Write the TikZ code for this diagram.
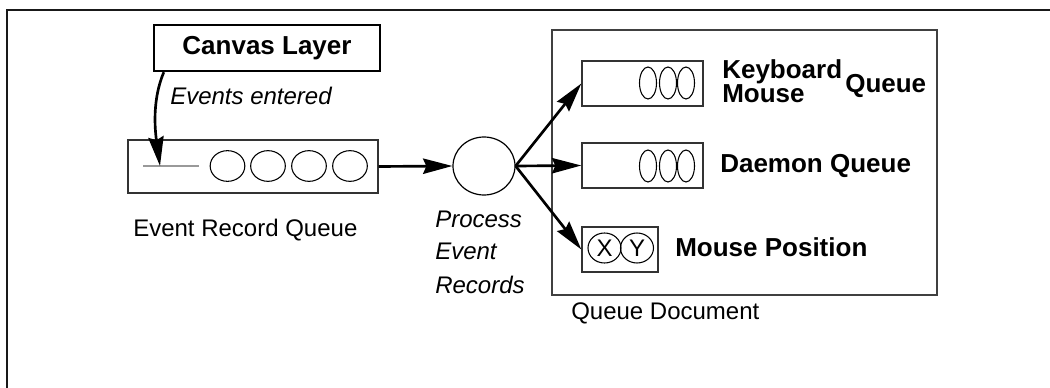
\documentclass[tikz,border=0pt]{standalone}
\usepackage{fontspec}
\setmainfont{Liberation Sans}
\usetikzlibrary{arrows.meta,shapes.geometric,calc}
\begin{document}
\begin{tikzpicture}[x=0.75pt,y=-0.75pt,
  frame/.style={line width=1.5pt, draw=black!90},
  qbox/.style={draw=black!80, line width=1pt, inner sep=0pt, rectangle},
  slot/.style={draw=black, line width=0.8pt, ellipse, inner sep=0pt},
  flow/.style={line width=2pt, -{Stealth[length=22pt,width=11.5pt,inset=2.5pt]}},
  reg/.style={font=\fontsize{18}{20}\selectfont, inner sep=0pt, anchor=base west},
  ital/.style={font=\fontsize{18}{20}\selectfont\itshape, inner sep=0pt, anchor=base west},
  bold/.style={font=\fontsize{19.5}{22}\selectfont\bfseries, inner sep=0pt, anchor=base west}]

\useasboundingbox (0,0) rectangle (1050,388);

% outer frame: top and left edges only
\coordinate (fcorner) at (7,10);
\coordinate (fright) at (1050,10);
\coordinate (fbottom) at (7,388);
\draw[frame] (fright) -- (fcorner) -- (fbottom);

% canvas layer
\node[draw=black, line width=1.8pt, minimum width=169.5pt, minimum height=34.5pt, inner sep=0pt,
      font=\fontsize{19.5}{22}\selectfont\bfseries] (canvas) at (267,48) {Canvas Layer};
\node[ital] (entered) at (170,105) {Events entered};

% event record queue
\node[qbox, minimum width=187.5pt, minimum height=39.75pt] (erq) at (253,166.5) {};
\coordinate (gl) at (143,166);
\coordinate (gr) at (199,166);
\draw[black!40, line width=1pt] (gl) -- (gr);
\node[slot, minimum width=26pt, minimum height=23pt] (e1) at (227.5,166) {};
\node[slot, minimum width=26pt, minimum height=23pt] (e2) at (268,166) {};
\node[slot, minimum width=26pt, minimum height=23pt] (e3) at (309,166) {};
\node[slot, minimum width=26pt, minimum height=23pt] (e4) at (350,166) {};
\node[reg] (erqlabel) at (133,237) {Event Record Queue};

% entry arrow from the canvas layer
\coordinate (cstart) at ($(canvas.south west)+(11,0)$);
\coordinate (entry) at (160,166);
\draw[flow] (cstart) .. controls (152,100) and (155,130) .. (entry);

% processing step
\node[draw=black, line width=0.9pt, ellipse, minimum width=46.5pt, minimum height=43.5pt, inner sep=0pt] (proc) at (484,166) {};
\node[ital] (p1) at (435,228) {Process};
\node[ital] (p2) at (435,260) {Event};
\node[ital] (p3) at (435,294) {Records};

% queue document
\node[draw=black!75, line width=1.2pt, minimum width=288.75pt, minimum height=198.75pt, inner sep=0pt] (qdoc) at (744.5,162.5) {};
\node[reg] (qdoclabel) at (571,320) {Queue Document};

% keyboard / mouse queue
\node[qbox, minimum width=90.75pt, minimum height=33.75pt] (kb) at (642.5,83.5) {};
\node[slot, minimum width=12.75pt, minimum height=24pt] (k1) at (648,83) {};
\node[slot, minimum width=12.75pt, minimum height=24pt] (k2) at (668,83) {};
\node[slot, minimum width=12.75pt, minimum height=24pt] (k3) at (686,83) {};
\node[bold] (kbl1) at (722,79) {Keyboard};
\node[bold] (kbl2) at (722,103) {Mouse};
\node[bold] (kbl3) at (845,93) {Queue};

% daemon queue
\node[qbox, minimum width=90.75pt, minimum height=33.75pt] (dq) at (642.5,165.5) {};
\node[slot, minimum width=12.75pt, minimum height=24pt] (d1) at (648,166) {};
\node[slot, minimum width=12.75pt, minimum height=24pt] (d2) at (668,166) {};
\node[slot, minimum width=12.75pt, minimum height=24pt] (d3) at (686,166) {};
\node[bold] (dql) at (720,173) {Daemon Queue};

% mouse position
\node[qbox, minimum width=57pt, minimum height=33.75pt] (mp) at (620,249.5) {};
\node[slot, minimum width=24.75pt, minimum height=22.5pt, font=\fontsize{18}{20}\selectfont] (mx) at (604.5,248) {X};
\node[slot, minimum width=24.75pt, minimum height=22.5pt, font=\fontsize{18}{20}\selectfont] (my) at (637,248) {Y};
\node[bold] (mpl) at (675,257) {Mouse Position};

% flow arrows
\draw[flow] (erq.east) -- (proc.west);
\draw[flow] (proc.east) -- (kb.west);
\draw[flow] (proc.east) -- (dq.west);
\draw[flow] (proc.east) -- (mp.west);
\end{tikzpicture}
\end{document}
